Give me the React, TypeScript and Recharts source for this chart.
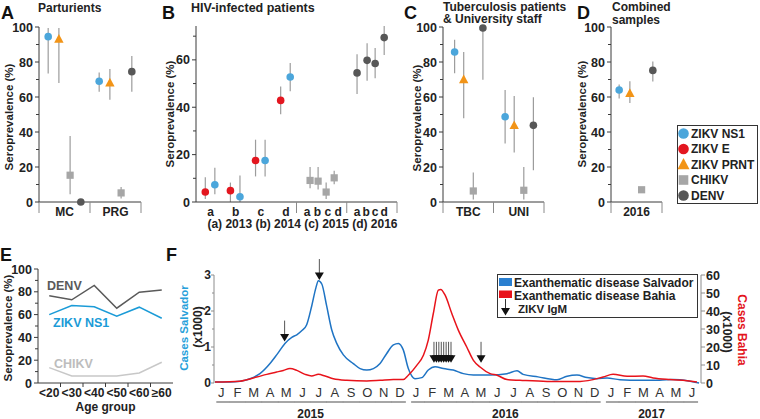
import React from 'react';
import { ScatterChart, Scatter, XAxis, YAxis, ErrorBar, LineChart, Line, ComposedChart } from 'recharts';

const FONT = 'Arial, "Liberation Sans", Helvetica, sans-serif';
const W = 760;
const H = 419;

const C_NS1 = '#4ba6db';
const C_E = '#e3161f';
const C_PRNT = '#f29417';
const C_CHIKV = '#a6a6a6';
const C_DENV = '#575757';
const C_ERR = '#9c9c9c';
const AXIS = '#3a3a3a';
const SEP = '#8a8a8a';
const TXT = '#222';

// ---------------- Panel A: Parturients ----------------
const aCategories = ['MC', 'PRG'];
const aNs1 = [94.5, 69]; const aNs1Lo = [73.5, 63]; const aNs1Hi = [99.5, 74];
const aPrnt = [93, 68]; const aPrntLo = [68, 58.5]; const aPrntHi = [99.5, 76];
const aChikv = [15.3, 5.2]; const aChikvLo = [4.4, 2]; const aChikvHi = [37.7, 8.6];
const aDenv = [0, 74.5]; const aDenvLo = [0, 63]; const aDenvHi = [0, 83.5];

// ---------------- Panel B: HIV-infected patients ----------------
const bSubLabels = ['a', 'b', 'c', 'd'];
const bFootnote = '(a) 2013 (b) 2014 (c) 2015 (d) 2016';
const bZikvE = [4.2, 4.8, 17.5, 42.9]; const bZikvELo = [1.3, 0, 10.8, 37]; const bZikvEHi = [10.4, 8.2, 26.3, 48.8];
const bNs1 = [7.3, 2.2, 17.5, 52.8]; const bNs1Lo = [3.3, 0, 10.8, 46.8]; const bNs1Hi = [14.5, 11.2, 26.3, 58.7];
const bChikv = [9.1, 8.8, 4.2, 10.2]; const bChikvLo = [5.8, 5.3, 1.3, 7.5]; const bChikvHi = [14.8, 14.8, 8.2, 13.2];
const bDenv = [54.5, 59.8, 58.5, 69.4]; const bDenvLo = [45.6, 51.2, 52.2, 62.1]; const bDenvHi = [62.4, 67, 65, 74.3];

// ---------------- Panel C: Tuberculosis patients & University staff ----------------
const cCategories = ['TBC', 'UNI'];
const cNs1 = [85.7, 48.7]; const cNs1Lo = [73.6, 33.5]; const cNs1Hi = [92.7, 64];
const cPrnt = [69.8, 43.6]; const cPrntLo = [47.8, 28.3]; const cPrntHi = [85.7, 60.6];
const cChikv = [6.3, 6.7]; const cChikvLo = [1.4, 1.4]; const cChikvHi = [16.8, 20];
const cDenv = [99.4, 43.8]; const cDenvLo = [69.8, 18.2]; const cDenvHi = [100, 59.9];

// ---------------- Panel D: Combined samples ----------------
const dCategories = ['2016'];
const dNs1 = [64]; const dNs1Lo = [59.2]; const dNs1Hi = [67.2];
const dPrnt = [62]; const dPrntLo = [56.6]; const dPrntHi = [69];
const dChikv = [7]; const dChikvLo = [6]; const dChikvHi = [8];
const dDenv = [75.2]; const dDenvLo = [68.8]; const dDenvHi = [80.3];

// ---------------- Panel E: Age groups ----------------
const eAgeGroups = ['<20', '<30', '<40', '<50', '<60', '\u226560'];
const eDenv = [76.5, 73, 85.6, 65.6, 79.7, 81.5];
const eNs1 = [60, 68, 66.8, 58.5, 66.5, 56.8];
const eChikv = [13.5, 6.2, 6.2, 6.2, 8.8, 18.2];

// ---------------- Panel F: Exanthematic disease time series (month index, 0 = Jan 2015) ----------------
const monthLetters = ['J', 'F', 'M', 'A', 'M', 'J', 'J', 'A', 'S', 'O', 'N', 'D'];
const years = ['2015', '2016', '2017'];
const monthCount = 30;
const salvadorMonths = [-0.39, 0.54, 1.15, 1.77, 2.38, 3.0, 3.41, 3.92, 4.34, 4.65, 4.95, 5.26, 5.57, 5.83, 5.98, 6.19, 6.49, 6.8, 7.11, 7.52, 8.13, 8.55, 8.96, 9.37, 9.78, 10.19, 10.6, 10.91, 11.21, 11.52, 11.93, 12.35, 12.75, 13.17, 13.68, 14.29, 14.91, 15.53, 16.56, 17.6, 18.22, 18.59, 19.51, 20.68, 21.3, 21.91, 22.53, 23.14, 23.76, 24.56, 25.8, 27.0, 27.83, 28.26, 28.88, 29.43];
const salvadorCases = [0.03, 0.03, 0.05, 0.12, 0.26, 0.54, 0.78, 1.1, 1.27, 1.34, 1.45, 1.62, 2.14, 2.65, 2.84, 2.75, 2.14, 1.48, 1.1, 0.78, 0.54, 0.4, 0.36, 0.4, 0.54, 0.82, 1.06, 1.1, 0.92, 0.4, 0.12, 0.15, 0.36, 0.45, 0.4, 0.36, 0.26, 0.22, 0.22, 0.26, 0.34, 0.24, 0.17, 0.09, 0.19, 0.22, 0.15, 0.12, 0.14, 0.09, 0.075, 0.075, 0.1, 0.09, 0.05, 0.0];
const bahiaMonths = [-0.39, 1.15, 2.18, 2.8, 3.41, 3.82, 4.23, 4.65, 5.16, 5.57, 5.98, 6.39, 6.9, 7.73, 8.96, 9.78, 10.6, 11.21, 11.52, 12.04, 12.45, 12.75, 13.06, 13.37, 13.52, 13.78, 14.2, 14.6, 15.12, 15.53, 15.94, 16.56, 16.99, 17.6, 18.4, 20.07, 22.1, 23.52, 24.13, 25.0, 25.98, 26.6, 27.64, 28.69, 29.3];
const bahiaCases = [0.5, 1, 3.3, 4.8, 6.1, 7, 8, 7, 4.8, 3.9, 4.8, 3.9, 2.4, 1.5, 1.1, 1.5, 2, 1.9, 4.3, 9.8, 15.4, 23.8, 38.6, 51.6, 52, 48.9, 38.6, 29.4, 20, 12.6, 8.9, 5.2, 4.3, 1.9, 1.5, 0.9, 0.9, 3.3, 4.8, 3.7, 3.9, 2.8, 1.9, 1.3, 0.6];
const igmMonths = [3.9, 6.04, 13.1, 13.25, 13.4, 13.55, 13.7, 13.85, 14.0, 14.15, 16.0];
const igmTips = [1.15, 2.86, 0.56, 0.56, 0.56, 0.56, 0.56, 0.56, 0.56, 0.56, 0.56];

// ---------------- helpers ----------------
type Pt = { x: number; y: number; err: [number, number] };
const pts = (xs: number[], v: number[], lo: number[], hi: number[]): Pt[] =>
  v.map((val, i) => ({ x: xs[i], y: val, err: [val - lo[i], hi[i] - val] as [number, number] }));

const range = (a: number, b: number, s: number) => {
  const out: number[] = [];
  for (let v = a; v <= b + 1e-9; v += s) out.push(Math.round(v * 1000) / 1000);
  return out;
};
const r3 = (v: number) => Math.round(v * 1000) / 1000;

const circleShape = (color: string, r = 3.8) => (p: any) => <circle cx={p.cx} cy={p.cy} r={r} fill={color} />;
const triShape = (color: string) => (p: any) => (
  <polygon points={`${p.cx},${p.cy - 5.3} ${p.cx - 4.7},${p.cy + 3.4} ${p.cx + 4.7},${p.cy + 3.4}`} fill={color} />
);
const squareShape = (color: string) => (p: any) => <rect x={p.cx - 3.6} y={p.cy - 3.6} width={7.2} height={7.2} fill={color} />;
const noShape = () => <g />;

const yTickLeft = (majorEvery: number, color: string, fs: number, len = 4, gap = 2) => (p: any) => {
  const v = p.payload.value;
  const major = Math.abs(v / majorEvery - Math.round(v / majorEvery)) < 1e-6;
  return (
    <g>
      <line x1={p.x - (major ? len : len - 1)} x2={p.x} y1={p.y} y2={p.y} stroke={color} strokeWidth={1} />
      {major && (
        <text x={p.x - len - gap} y={p.y} dy="0.36em" textAnchor="end" fontFamily={FONT} fontWeight="bold" fontSize={fs} fill={TXT}>
          {v}
        </text>
      )}
    </g>
  );
};

const yTickRight = (color: string, fs: number) => (p: any) => (
  <g>
    <line x1={p.x} x2={p.x + 4} y1={p.y} y2={p.y} stroke={color} strokeWidth={1} />
    <text x={p.x + 5} y={p.y} dy="0.36em" textAnchor="start" fontFamily={FONT} fontWeight="bold" fontSize={fs} fill={TXT}>
      {p.payload.value}
    </text>
  </g>
);

const catTick = (labels: Map<number, string>, seps: Set<number>, sepLen = 11, sepColor = SEP) => (p: any) => {
  const v = p.payload.value;
  if (seps.has(v)) return <line x1={p.x} x2={p.x} y1={p.y} y2={p.y + sepLen} stroke={sepColor} strokeWidth={1} />;
  return (
    <text x={p.x} y={p.y + 13.5} textAnchor="middle" fontFamily={FONT} fontWeight="bold" fontSize={12} fill={TXT}>
      {labels.get(v) ?? ''}
    </text>
  );
};

type SeriesDef = { name: string; color: string; shape: 'circle' | 'triangle' | 'square'; points: Pt[] };

const shapeFor = (s: SeriesDef) =>
  s.shape === 'circle' ? circleShape(s.color) : s.shape === 'triangle' ? triShape(s.color) : squareShape(s.color);

function SeroChart(props: {
  x0: number; x1: number; y0: number; y1: number; xMax: number; yMax: number;
  xTicks: number[]; xTick: any; series: SeriesDef[];
}) {
  const { x0, x1, y0, y1, xMax, yMax, xTicks, xTick, series } = props;
  const yW = 30;
  const xH = 20;
  const margin = { left: x0 - yW, right: W - x1, top: y0, bottom: H - y1 - xH };
  const all = series.flatMap((s) => s.points);
  return (
    <div style={{ position: 'absolute', left: 0, top: 0 }}>
      <ScatterChart width={W} height={H} margin={margin}>
        <XAxis type="number" dataKey="x" domain={[0, xMax]} ticks={xTicks} tick={xTick} interval={0}
          tickLine={false} tickSize={0} tickMargin={0} axisLine={{ stroke: AXIS, strokeWidth: 1 }} height={xH} />
        <YAxis type="number" dataKey="y" domain={[0, yMax]} ticks={range(0, yMax, 10)} tick={yTickLeft(20, AXIS, 12.5)} interval={0}
          tickLine={false} tickSize={0} tickMargin={0} axisLine={{ stroke: AXIS, strokeWidth: 1 }} width={yW} />
        <Scatter name="err" data={all} shape={noShape} isAnimationActive={false}>
          <ErrorBar dataKey="err" direction="y" width={0} stroke={C_ERR} strokeWidth={1.2} />
        </Scatter>
        {series.map((s) => (
          <Scatter key={s.name} name={s.name} data={s.points} shape={shapeFor(s)} isAnimationActive={false} />
        ))}
      </ScatterChart>
    </div>
  );
}

// category panel helper (A, C, D)
function catPanelTicks(cats: string[]) {
  const labels = new Map<number, string>();
  const seps = new Set<number>();
  cats.forEach((c, i) => labels.set(i + 0.5, c));
  for (let i = 0; i <= cats.length; i++) seps.add(i);
  const ticks = [...Array.from(seps), ...Array.from(labels.keys())].sort((a, b) => a - b);
  return { ticks, tick: catTick(labels, seps) };
}

function catSeries(cats: string[], slots: number[], defs: { name: string; color: string; shape: any; v: number[]; lo: number[]; hi: number[] }[]): SeriesDef[] {
  return defs.map((d, k) => ({
    name: d.name, color: d.color, shape: d.shape,
    points: pts(cats.map((_, i) => i + slots[k]), d.v, d.lo, d.hi),
  }));
}

function PanelA() {
  const { ticks, tick } = catPanelTicks(aCategories);
  const series = catSeries(aCategories, [0.18, 0.39, 0.61, 0.82], [
    { name: 'ZIKV NS1', color: C_NS1, shape: 'circle', v: aNs1, lo: aNs1Lo, hi: aNs1Hi },
    { name: 'ZIKV PRNT', color: C_PRNT, shape: 'triangle', v: aPrnt, lo: aPrntLo, hi: aPrntHi },
    { name: 'CHIKV', color: C_CHIKV, shape: 'square', v: aChikv, lo: aChikvLo, hi: aChikvHi },
    { name: 'DENV', color: C_DENV, shape: 'circle', v: aDenv, lo: aDenvLo, hi: aDenvHi },
  ]);
  return <SeroChart x0={39} x1={141} y0={27} y1={202} xMax={2} yMax={100} xTicks={ticks} xTick={tick} series={series} />;
}

function PanelC() {
  const { ticks, tick } = catPanelTicks(cCategories);
  const series = catSeries(cCategories, [0.23, 0.41, 0.6, 0.79], [
    { name: 'ZIKV NS1', color: C_NS1, shape: 'circle', v: cNs1, lo: cNs1Lo, hi: cNs1Hi },
    { name: 'ZIKV PRNT', color: C_PRNT, shape: 'triangle', v: cPrnt, lo: cPrntLo, hi: cPrntHi },
    { name: 'CHIKV', color: C_CHIKV, shape: 'square', v: cChikv, lo: cChikvLo, hi: cChikvHi },
    { name: 'DENV', color: C_DENV, shape: 'circle', v: cDenv, lo: cDenvLo, hi: cDenvHi },
  ]);
  return <SeroChart x0={443} x1={544} y0={27} y1={202} xMax={2} yMax={100} xTicks={ticks} xTick={tick} series={series} />;
}

function PanelD() {
  const { ticks, tick } = catPanelTicks(dCategories);
  const series = catSeries(dCategories, [0.16, 0.37, 0.6, 0.82], [
    { name: 'ZIKV NS1', color: C_NS1, shape: 'circle', v: dNs1, lo: dNs1Lo, hi: dNs1Hi },
    { name: 'ZIKV PRNT', color: C_PRNT, shape: 'triangle', v: dPrnt, lo: dPrntLo, hi: dPrntHi },
    { name: 'CHIKV', color: C_CHIKV, shape: 'square', v: dChikv, lo: dChikvLo, hi: dChikvHi },
    { name: 'DENV', color: C_DENV, shape: 'circle', v: dDenv, lo: dDenvLo, hi: dDenvHi },
  ]);
  return <SeroChart x0={611} x1={662} y0={27} y1={202} xMax={1} yMax={100} xTicks={ticks} xTick={tick} series={series} />;
}

function PanelB() {
  // group layout: group 1 (E/NS1 by year) spans 4 units, groups 2 and 3 span 2 units each
  const g1 = bSubLabels.map((_, i) => i);
  const g2Pts = bSubLabels.map((_, i) => 4.54 + 0.32 * i);
  const g3Pts = [6.41, 6.81, 7.13, 7.49];
  const labels = new Map<number, string>();
  bSubLabels.forEach((l, i) => labels.set(r3(i + 0.58), l));
  bSubLabels.forEach((l, i) => labels.set(r3(4.42 + 0.413 * i), l));
  bSubLabels.forEach((l, i) => labels.set(r3(6.41 + 0.36 * i), l));
  const seps = new Set<number>([4, 6, 8]);
  const ticks = [...Array.from(seps), ...Array.from(labels.keys())].sort((a, b) => a - b);
  const series: SeriesDef[] = [
    { name: 'ZIKV E', color: C_E, shape: 'circle', points: pts(g1.map((i) => i + 0.37), bZikvE, bZikvELo, bZikvEHi) },
    { name: 'ZIKV NS1', color: C_NS1, shape: 'circle', points: pts(g1.map((i) => i + 0.75), bNs1, bNs1Lo, bNs1Hi) },
    { name: 'CHIKV', color: C_CHIKV, shape: 'square', points: pts(g2Pts, bChikv, bChikvLo, bChikvHi) },
    { name: 'DENV', color: C_DENV, shape: 'circle', points: pts(g3Pts, bDenv, bDenvLo, bDenvHi) },
  ];
  return <SeroChart x0={196} x1={397} y0={26} y1={202} xMax={8} yMax={70} xTicks={ticks} xTick={catTick(labels, seps)} series={series} />;
}

function PanelE() {
  const rows = eAgeGroups.map((g, i) => ({ x: i + 0.5, group: g, denv: eDenv[i], ns1: eNs1[i], chikv: eChikv[i] }));
  const labels = new Map<number, string>();
  eAgeGroups.forEach((g, i) => labels.set(i + 0.5, g));
  const seps = new Set<number>([1, 2, 3, 4, 5]);
  const ticks = [...Array.from(seps), ...Array.from(labels.keys())].sort((a, b) => a - b);
  const yW = 30;
  return (
    <div style={{ position: 'absolute', left: 0, top: 0 }}>
      <LineChart width={W} height={H} data={rows} margin={{ left: 38 - yW, right: W - 173, top: 269, bottom: H - 383 - 20 }}>
        <XAxis type="number" dataKey="x" domain={[0, 6]} ticks={ticks} tick={catTick(labels, seps, 4, AXIS)} interval={0}
          tickLine={false} tickSize={0} tickMargin={0} axisLine={{ stroke: AXIS }} height={20} />
        <YAxis type="number" domain={[0, 100]} ticks={range(0, 100, 10)} tick={yTickLeft(20, AXIS, 12.5)} interval={0}
          tickLine={false} tickSize={0} tickMargin={0} axisLine={{ stroke: AXIS }} width={yW} />
        <Line dataKey="chikv" type="linear" stroke="#c8c8c8" strokeWidth={1.5} dot={false} isAnimationActive={false} />
        <Line dataKey="ns1" type="linear" stroke="#1b9bd7" strokeWidth={1.5} dot={false} isAnimationActive={false} />
        <Line dataKey="denv" type="linear" stroke="#5a5a5a" strokeWidth={1.5} dot={false} isAnimationActive={false} />
      </LineChart>
    </div>
  );
}

const arrowShape = (p: any) => {
  const { cx, cy } = p;
  return (
    <g>
      <line x1={cx} x2={cx} y1={cy - 21} y2={cy - 6} stroke="#555" strokeWidth={1} />
      <polygon points={`${cx - 4.5},${cy - 7.5} ${cx + 4.5},${cy - 7.5} ${cx},${cy}`} fill="#111" />
    </g>
  );
};

function PanelF() {
  const salvador = salvadorMonths.map((m, i) => ({ m, v: salvadorCases[i] }));
  const bahia = bahiaMonths.map((m, i) => ({ m, v: bahiaCases[i] }));
  const igm = igmMonths.map((m, i) => ({ m, v: igmTips[i] }));
  const monthTicks = range(0, monthCount - 1, 1);
  const yearCenters = years.map((_, y) => {
    const first = y * 12;
    const last = Math.min(first + 11, monthCount - 1);
    return (first + last) / 2;
  });
  const yearLabel = new Map<number, string>();
  yearCenters.forEach((c, i) => yearLabel.set(c, years[i]));
  const monthTick = (p: any) => {
    const i = Math.round(p.payload.value);
    const mo = i % 12;
    const isFirst = mo === 0;
    const isLast = mo === 11 || i === monthCount - 1;
    const xa = p.x - (isFirst ? 5 : 8.3);
    const xb = p.x + (isLast ? 6 : 8.3);
    return (
      <g>
        <text x={p.x} y={p.y + 14} textAnchor="middle" fontFamily={FONT} fontSize={13} fill="#333">{monthLetters[mo]}</text>
        <line x1={xa} x2={xb} y1={p.y + 19} y2={p.y + 19} stroke="#808080" strokeWidth={1.4} />
      </g>
    );
  };
  const yearTick = (p: any) => (
    <text x={p.x} y={p.y + 14.5} textAnchor="middle" fontFamily={FONT} fontWeight="bold" fontSize={12} fill={TXT}>
      {yearLabel.get(p.payload.value) ?? ''}
    </text>
  );
  const FA = '#8c8c8c';
  return (
    <div style={{ position: 'absolute', left: 0, top: 0 }}>
      <ComposedChart width={W} height={H} margin={{ left: 214 - 30, right: W - 701 - 30, top: 275, bottom: 0 }}>
        <XAxis xAxisId="m" type="number" dataKey="m" domain={[-0.45, 29.55]} ticks={monthTicks} tick={monthTick} interval={0}
          axisLine={false} tickLine={false} tickSize={0} tickMargin={0} height={20} />
        <XAxis xAxisId="yr" type="number" dataKey="m" domain={[-0.45, 29.55]} ticks={yearCenters} tick={yearTick} interval={0}
          axisLine={false} tickLine={false} tickSize={0} tickMargin={0} height={16} allowDataOverflow />
        <YAxis yAxisId="l" type="number" domain={[0, 3]} ticks={range(0, 3, 0.5)} tick={yTickLeft(1, FA, 12, 3, 0)} interval={0}
          tickLine={false} tickSize={0} tickMargin={0} axisLine={{ stroke: FA }} width={30} />
        <YAxis yAxisId="r" orientation="right" type="number" domain={[0, 60]} ticks={range(0, 60, 10)} tick={yTickRight(FA, 12.5)} interval={0}
          tickLine={false} tickSize={0} tickMargin={0} axisLine={{ stroke: FA }} width={30} />
        <Line xAxisId="m" yAxisId="l" data={salvador} dataKey="v" type="monotone" stroke="#1f74c4" strokeWidth={1.5} dot={false} isAnimationActive={false} />
        <Line xAxisId="m" yAxisId="r" data={bahia} dataKey="v" type="monotone" stroke="#e8131b" strokeWidth={1.5} dot={false} isAnimationActive={false} />
        <Scatter xAxisId="m" yAxisId="l" data={igm} dataKey="v" shape={arrowShape} isAnimationActive={false} />
      </ComposedChart>
    </div>
  );
}

const legendItems = [
  { label: 'ZIKV NS1', color: C_NS1, shape: 'circle' },
  { label: 'ZIKV E', color: C_E, shape: 'circle' },
  { label: 'ZIKV PRNT', color: C_PRNT, shape: 'triangle' },
  { label: 'CHIKV', color: C_CHIKV, shape: 'square' },
  { label: 'DENV', color: C_DENV, shape: 'circle' },
];

const T = (p: any) => <text fontFamily={FONT} fontWeight="bold" fill={TXT} {...p} />;
const VT = ({ x, y, rot = -90, children, ...rest }: any) => (
  <text transform={`translate(${x},${y}) rotate(${rot})`} textAnchor="middle" dy="0.36em" fontFamily={FONT} fontWeight="bold" {...rest}>
    {children}
  </text>
);

function Overlay() {
  return (
    <svg width={W} height={H} style={{ position: 'absolute', left: 0, top: 0 }}>
      {/* panel letters */}
      <T x={1} y={18.5} fontSize={18} fill="#111">A</T>
      <T x={162} y={18.5} fontSize={18} fill="#111">B</T>
      <T x={404} y={18.5} fontSize={18} fill="#111">C</T>
      <T x={577} y={18.5} fontSize={18} fill="#111">D</T>
      <T x={0} y={260.5} fontSize={18} fill="#111">E</T>
      <T x={166} y={260.5} fontSize={18} fill="#111">F</T>
      {/* titles */}
      <T x={38} y={11.5} fontSize={12}>Parturients</T>
      <T x={191} y={11.5} fontSize={12.5}>HIV-infected patients</T>
      <T x={443} y={10.5} fontSize={12}>Tuberculosis patients</T>
      <T x={443} y={23} fontSize={12}>&amp; University staff</T>
      <T x={612} y={10.5} fontSize={12}>Combined</T>
      <T x={612} y={23.5} fontSize={12}>samples</T>
      {/* y-axis titles */}
      <VT x={8.5} y={117} fontSize={11.5} fill={TXT}>Seroprevalence (%)</VT>
      <VT x={169.5} y={114} fontSize={11.5} fill={TXT}>Seroprevalence (%)</VT>
      <VT x={417} y={118} fontSize={11.5} fill={TXT}>Seroprevalence (%)</VT>
      <VT x={582} y={114} fontSize={11.5} fill={TXT}>Seroprevalence (%)</VT>
      <VT x={7.5} y={328} fontSize={11.5} fill={TXT}>Seroprevalence (%)</VT>
      {/* B footnote */}
      <T x={302.5} y={228} fontSize={12} textAnchor="middle">{bFootnote}</T>
      {/* E */}
      <T x={105.5} y={410.5} fontSize={12} textAnchor="middle">Age group</T>
      <T x={47} y={290} fontSize={12.5} fill="#5a5a5a">DENV</T>
      <T x={53} y={327} fontSize={12.5} fill="#1b9bd7">ZIKV NS1</T>
      <T x={54} y={368} fontSize={12.5} fill="#bdbdbd">CHIKV</T>
      {/* F axis titles */}
      <VT x={184} y={328} fontSize={11.5} fill="#27a0da">Cases Salvador</VT>
      <VT x={198} y={327} fontSize={12} fill={TXT}>(x1000)</VT>
      <VT x={742} y={330} rot={90} fontSize={12} fill="#e3141c">Cases Bahia</VT>
      <VT x={727} y={332} rot={90} fontSize={12} fill={TXT}>(x1000)</VT>
      {/* ABCD legend */}
      <rect x={677.5} y={125.5} width={80} height={78} fill="#fff" stroke="#333" strokeWidth={1} />
      {legendItems.map((it, i) => {
        const cy = 133.5 + i * 15.5;
        const cx = 683.5;
        return (
          <g key={it.label}>
            {it.shape === 'circle' && <circle cx={cx} cy={cy} r={5.3} fill={it.color} />}
            {it.shape === 'triangle' && <polygon points={`${cx},${cy - 6.5} ${cx - 6},${cy + 4.8} ${cx + 6},${cy + 4.8}`} fill={it.color} />}
            {it.shape === 'square' && <rect x={cx - 4.8} y={cy - 4.8} width={9.6} height={9.6} fill={it.color} />}
            <T x={691} y={cy} dy="0.36em" fontSize={12}>{it.label}</T>
          </g>
        );
      })}
      {/* F legend */}
      <rect x={497.5} y={274.5} width={200} height={43} fill="#fff" stroke="#333" strokeWidth={1} />
      <rect x={499} y={278} width={13} height={8} fill="#2a7fd0" />
      <T x={514} y={287} fontSize={12}>Exanthematic disease Salvador</T>
      <rect x={499} y={290.5} width={13} height={7.5} fill="#e8131b" />
      <T x={514} y={299.5} fontSize={12}>Exanthematic disease Bahia</T>
      <line x1={505.5} x2={505.5} y1={299} y2={310} stroke="#333" strokeWidth={1} />
      <polygon points={`${501},${308} ${510},${308} ${505.5},${315.5}`} fill="#111" />
      <T x={518} y={313} fontSize={11.5}>ZIKV IgM</T>
    </svg>
  );
}

export default function App() {
  return (
    <div style={{ position: 'absolute', left: 0, top: 0, width: W, height: H, background: '#fff', overflow: 'hidden' }}>
      <PanelA />
      <PanelB />
      <PanelC />
      <PanelD />
      <PanelE />
      <PanelF />
      <Overlay />
    </div>
  );
}
